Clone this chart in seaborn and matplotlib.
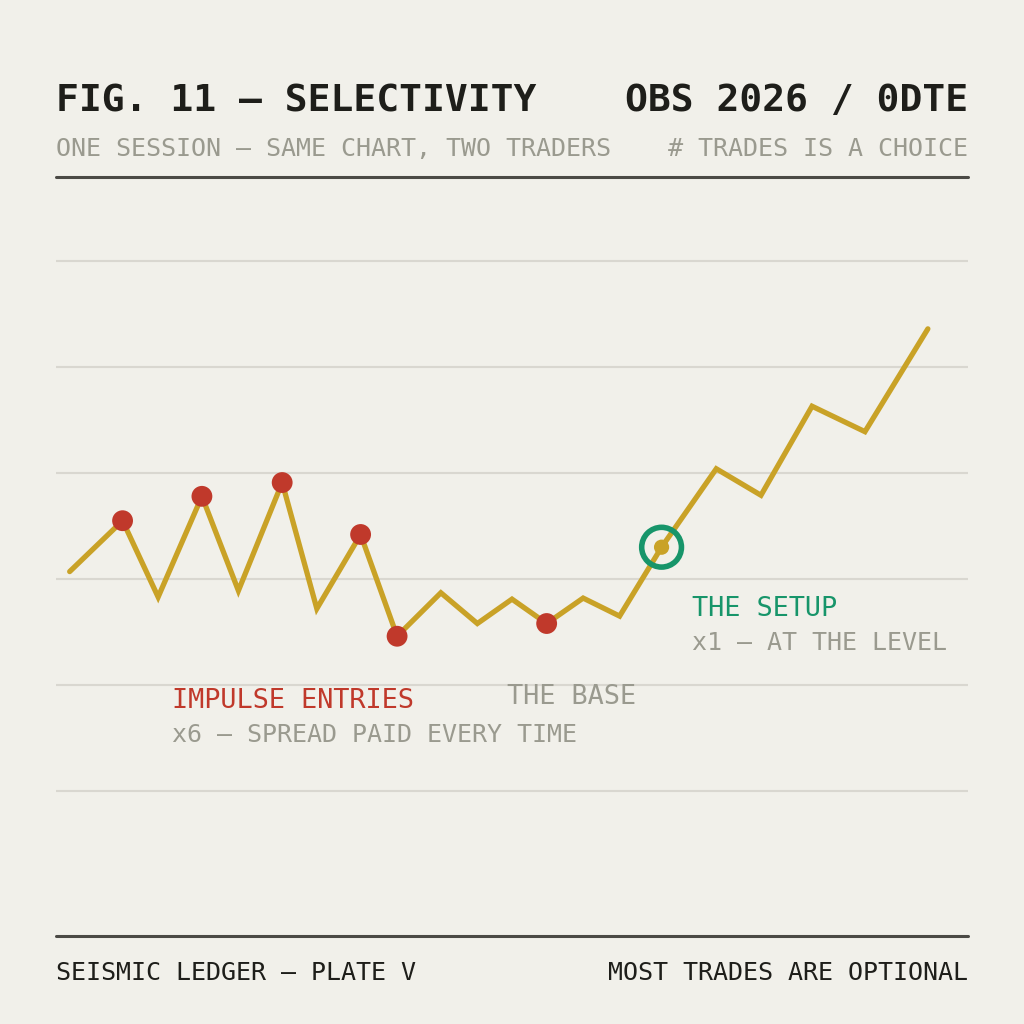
import numpy as np
import pandas as pd
import seaborn as sns
import matplotlib.pyplot as plt
from matplotlib.lines import Line2D

# Session path (x = session progress, y = price level in grid units)
session_t = [1.5, 7.3, 11.2, 16.0, 20.0, 24.8, 28.6, 33.4, 37.4, 42.2, 46.2,
             50.0, 53.8, 57.8, 61.8, 66.4, 72.4, 77.3, 82.9, 88.7, 95.6]
price = [2.07, 2.55, 1.83, 2.78, 1.89, 2.91, 1.72, 2.42, 1.46, 1.87, 1.58,
         1.81, 1.58, 1.82, 1.65, 2.30, 3.04, 2.79, 3.63, 3.39, 4.36]
impulse_idx = [1, 3, 5, 7, 8, 12]
setup_idx = 15
grid_levels = [0, 1, 2, 3, 4, 5]

BG = '#f1f0ea'
INK = '#1e1e1a'
GREY = '#9a9a8f'
MUSTARD = '#c9a227'
RED = '#c0392b'
GREEN = '#17956a'
RULE = '#4b4a45'

sns.set_theme(style="whitegrid", rc={
    'figure.facecolor': BG,
    'axes.facecolor': BG,
    'grid.color': '#d9d7d0',
    'grid.linewidth': 1.5,
})
plt.rcParams['font.family'] = ['DejaVu Sans Mono', 'DejaVu Sans']

df = pd.DataFrame({'t': session_t, 'price': price})
imp = df.iloc[impulse_idx]
setup = df.iloc[[setup_idx]]

W = 1024
fig = plt.figure(figsize=(10.24, 10.24), dpi=100)
ax = fig.add_axes([56 / W, 1 - 936 / W, 912 / W, 760 / W])

sns.lineplot(data=df, x='t', y='price', ax=ax, color=MUSTARD, linewidth=3.8,
             solid_joinstyle='miter', zorder=3)
sns.scatterplot(data=imp, x='t', y='price', ax=ax, color=RED, s=225,
                edgecolor='none', zorder=4)
sns.scatterplot(data=setup, x='t', y='price', ax=ax, color=MUSTARD, s=120,
                edgecolor='none', zorder=4)
ax.scatter(setup['t'], setup['price'], s=820, facecolors='none',
           edgecolors=GREEN, linewidths=4.0, zorder=5)

ax.set_xlim(0, 100)
ax.set_ylim(-1.368, 5.802)
ax.set_yticks(grid_levels)
ax.set_xticks([])
ax.set_yticklabels([])
ax.grid(axis='x', visible=False)
ax.tick_params(length=0)
ax.set_xlabel('')
ax.set_ylabel('')
for s in ax.spines.values():
    s.set_visible(False)

# annotations
ax.text(12.7, 0.783, 'IMPULSE ENTRIES', color=RED, fontsize=19.4, va='baseline')
ax.text(12.7, 0.462, 'x6 — SPREAD PAID EVERY TIME', color=GREY, fontsize=18, va='baseline')
ax.text(49.45, 0.821, 'THE BASE', color=GREY, fontsize=19.4, va='baseline')
ax.text(69.7, 1.651, 'THE SETUP', color=GREEN, fontsize=19.4, va='baseline')
ax.text(69.7, 1.330, 'x1 — AT THE LEVEL', color=GREY, fontsize=18, va='baseline')


def fy(py):
    return 1 - py / W


# header
fig.text(56 / W, fy(111), 'FIG. 11 — SELECTIVITY', color=INK, fontsize=27.4,
         fontweight='bold', va='baseline', ha='left')
fig.text(968 / W, fy(111), 'OBS 2026 / 0DTE', color=INK, fontsize=27.4,
         fontweight='bold', va='baseline', ha='right')
fig.text(56 / W, fy(156), 'ONE SESSION — SAME CHART, TWO TRADERS', color=GREY,
         fontsize=18.0, va='baseline', ha='left')
fig.text(968 / W, fy(156), '# TRADES IS A CHOICE', color=GREY,
         fontsize=18.0, va='baseline', ha='right')

# rules
for py in (176.5, 936):
    fig.add_artist(Line2D([56 / W, 968 / W], [fy(py), fy(py)], color=RULE,
                          linewidth=2.2, transform=fig.transFigure))

# footer
fig.text(56 / W, fy(980), 'SEISMIC LEDGER — PLATE V', color=INK,
         fontsize=18, va='baseline', ha='left')
fig.text(968 / W, fy(980), 'MOST TRADES ARE OPTIONAL', color=INK,
         fontsize=18, va='baseline', ha='right')

fig.savefig('out.png', dpi=100, facecolor=BG)
